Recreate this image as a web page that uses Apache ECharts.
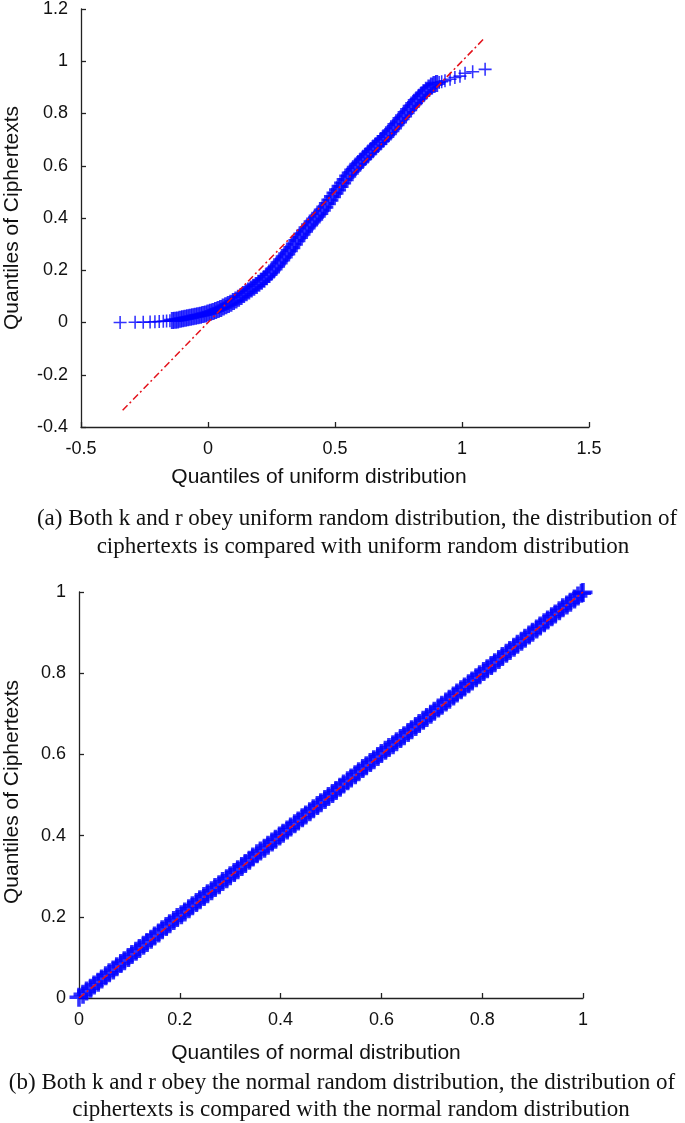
<!DOCTYPE html>
<html>
<head>
<meta charset="utf-8">
<script src="https://cdn.jsdelivr.net/npm/echarts@6/dist/echarts.min.js"></script>
<style>
html,body{margin:0;padding:0;background:#fff;}
#chart{width:685px;height:1123px;}
</style>
</head>
<body>
<div id="chart"></div>
<script>
// ---------- (a) uniform: quantile pairs ----------
var uniformTailLeft = [
  [-0.346,0.000],[-0.287,0.001],[-0.255,0.001],[-0.228,0.002],[-0.209,0.003],[-0.192,0.004],[-0.176,0.005],[-0.163,0.006],[-0.150,0.007]
];
var uniformBody = [
  [-0.14,0.008],[-0.13,0.009],[-0.12,0.010],[-0.11,0.012],[-0.10,0.014],[-0.09,0.016],[-0.08,0.018],[-0.07,0.020],[-0.06,0.022],[-0.05,0.024],
  [-0.04,0.026],[-0.03,0.028],[-0.02,0.031],[-0.01,0.033],[0.00,0.036],[0.01,0.039],[0.02,0.042],[0.03,0.046],[0.04,0.050],[0.05,0.054],
  [0.06,0.059],[0.07,0.064],[0.08,0.069],[0.09,0.074],[0.10,0.080],[0.11,0.086],[0.12,0.093],[0.13,0.100],[0.14,0.107],[0.15,0.114],
  [0.16,0.121],[0.17,0.128],[0.18,0.135],[0.19,0.142],[0.20,0.150],[0.21,0.158],[0.22,0.166],[0.23,0.175],[0.24,0.184],[0.25,0.194],
  [0.26,0.205],[0.27,0.216],[0.28,0.228],[0.29,0.240],[0.30,0.251],[0.31,0.263],[0.32,0.275],[0.33,0.287],[0.34,0.300],[0.35,0.313],
  [0.36,0.326],[0.37,0.338],[0.38,0.350],[0.39,0.362],[0.40,0.374],[0.41,0.385],[0.42,0.396],[0.43,0.407],[0.44,0.418],[0.45,0.430],
  [0.46,0.442],[0.47,0.455],[0.48,0.468],[0.49,0.482],[0.50,0.495],[0.51,0.508],[0.52,0.521],[0.53,0.534],[0.54,0.547],[0.55,0.560],
  [0.56,0.572],[0.57,0.583],[0.58,0.594],[0.59,0.605],[0.60,0.615],[0.61,0.625],[0.62,0.635],[0.63,0.645],[0.64,0.655],[0.65,0.665],
  [0.66,0.675],[0.67,0.685],[0.68,0.694],[0.69,0.703],[0.70,0.712],[0.71,0.723],[0.72,0.734],[0.73,0.745],[0.74,0.757],[0.75,0.768],
  [0.76,0.780],[0.77,0.791],[0.78,0.803],[0.79,0.815],[0.80,0.827],[0.81,0.838],[0.82,0.849],[0.83,0.859],[0.84,0.869],[0.85,0.879],
  [0.86,0.889],[0.87,0.898],[0.88,0.905],[0.89,0.911],[0.90,0.915]
];
var uniformTailRight = [
  [0.91,0.919],[0.92,0.922],[0.933,0.925],[0.953,0.931],[0.972,0.938],[0.992,0.943],[1.012,0.954],[1.042,0.960],[1.091,0.969]
];
var uniformRefX = [-0.336, 1.090];
var uniformRefY = [-0.336, 1.090];

// ---------- (b) normal: quantile pairs ----------
var normalQQ = [
  [0.000,0.002],[0.008,0.009],[0.015,0.017],[0.023,0.024],[0.030,0.032],[0.038,0.039],[0.045,0.047],[0.053,0.055],[0.060,0.062],[0.068,0.069],
  [0.075,0.077],[0.083,0.085],[0.090,0.092],[0.098,0.100],[0.105,0.107],[0.113,0.115],[0.120,0.122],[0.128,0.130],[0.135,0.137],[0.143,0.145],
  [0.150,0.153],[0.158,0.160],[0.165,0.168],[0.173,0.176],[0.180,0.183],[0.188,0.191],[0.195,0.198],[0.203,0.205],[0.210,0.212],[0.218,0.220],
  [0.225,0.227],[0.233,0.235],[0.240,0.242],[0.248,0.250],[0.255,0.257],[0.263,0.264],[0.270,0.272],[0.278,0.279],[0.285,0.287],[0.293,0.294],
  [0.300,0.301],[0.308,0.309],[0.315,0.316],[0.323,0.324],[0.330,0.331],[0.338,0.339],[0.345,0.347],[0.353,0.355],[0.360,0.362],[0.368,0.369],
  [0.375,0.376],[0.383,0.384],[0.390,0.391],[0.398,0.399],[0.405,0.406],[0.413,0.414],[0.420,0.421],[0.428,0.429],[0.435,0.436],[0.443,0.444],
  [0.450,0.451],[0.458,0.459],[0.465,0.466],[0.473,0.474],[0.480,0.481],[0.488,0.489],[0.495,0.496],[0.503,0.504],[0.510,0.511],[0.518,0.519],
  [0.525,0.527],[0.533,0.535],[0.540,0.542],[0.548,0.550],[0.555,0.557],[0.563,0.565],[0.570,0.572],[0.578,0.580],[0.585,0.587],[0.593,0.595],
  [0.600,0.602],[0.608,0.610],[0.615,0.617],[0.623,0.624],[0.630,0.631],[0.638,0.639],[0.645,0.646],[0.653,0.654],[0.660,0.661],[0.668,0.669],
  [0.675,0.676],[0.683,0.684],[0.690,0.691],[0.698,0.699],[0.705,0.706],[0.713,0.714],[0.720,0.721],[0.728,0.729],[0.735,0.736],[0.743,0.744],
  [0.750,0.751],[0.758,0.759],[0.765,0.766],[0.773,0.774],[0.780,0.781],[0.788,0.789],[0.795,0.796],[0.803,0.804],[0.810,0.811],[0.818,0.819],
  [0.825,0.826],[0.833,0.834],[0.840,0.841],[0.848,0.849],[0.855,0.856],[0.863,0.864],[0.870,0.871],[0.878,0.879],[0.885,0.886],[0.893,0.894],
  [0.900,0.901],[0.908,0.909],[0.915,0.916],[0.923,0.924],[0.930,0.931],[0.938,0.939],[0.945,0.946],[0.953,0.954],[0.960,0.961],[0.968,0.968],
  [0.975,0.975],[0.983,0.983],[0.990,0.990],[0.997,0.997],[1.000,0.999]
];
var normalRefX = [0, 1];
var normalRefY = [0, 1];

// ---------- texts ----------
var xNameA = 'Quantiles of uniform distribution';
var xNameB = 'Quantiles of normal distribution';
var yName = 'Quantiles of Ciphertexts';
var captionA = ['(a) Both k and r obey uniform random distribution, the distribution of',
                'ciphertexts is compared with uniform random distribution'];
var captionB = ['(b) Both k and r obey the normal random distribution, the distribution of',
                'ciphertexts is compared with the normal random distribution'];

function zip(xs, ys){ return xs.map(function(x,i){ return [x, ys[i]]; }); }

var plusThin = 'path://M8.8,0 H11.2 V8.8 H20 V11.2 H11.2 V20 H8.8 V11.2 H0 V8.8 H8.8 Z';
var plusThick = 'path://M8.1,0 H11.9 V8.1 H20 V11.9 H11.9 V20 H8.1 V11.9 H0 V8.1 H8.1 Z';
var blue = '#0000ff';
var red = '#e3121b';
var sans = '"Liberation Sans", Arial, sans-serif';
var serif = '"Liberation Serif", "Times New Roman", serif';

function axisBase(){
  return {
    type: 'value',
    axisLine: {show: true, onZero: false, lineStyle: {color: '#222', width: 1.3}},
    axisTick: {show: true, inside: true, length: 5, lineStyle: {color: '#222', width: 1.3}},
    splitLine: {show: false},
    axisLabel: {color: '#111', fontFamily: sans, fontSize: 18, margin: 13}
  };
}
function ax(extra){ var a = axisBase(); for (var k in extra) a[k] = extra[k]; return a; }

function capText(x, y, t){
  return {type: 'text', x: x, y: y,
    style: {text: t, font: '23px ' + serif, fill: '#111', textAlign: 'center', textVerticalAlign: 'middle'}};
}

var chart = echarts.init(document.getElementById('chart'), null, {renderer: 'canvas'});
chart.setOption({
  animation: false,
  backgroundColor: '#fff',
  grid: [
    {left: 81, top: 9, width: 508, height: 418},
    {left: 79, top: 592, width: 504, height: 406}
  ],
  xAxis: [
    ax({gridIndex: 0, min: -0.5, max: 1.5, interval: 0.5}),
    ax({gridIndex: 1, min: 0, max: 1, interval: 0.2})
  ],
  yAxis: [
    ax({gridIndex: 0, min: -0.4, max: 1.2, interval: 0.2}),
    ax({gridIndex: 1, min: 0, max: 1, interval: 0.2})
  ],
  series: [
    {type: 'scatter', xAxisIndex: 0, yAxisIndex: 0, data: uniformTailLeft, symbol: plusThin, symbolSize: 13,
     itemStyle: {color: blue}, z: 2},
    {type: 'scatter', xAxisIndex: 0, yAxisIndex: 0, data: uniformBody, symbol: plusThick, symbolSize: 17,
     itemStyle: {color: blue}, z: 2},
    {type: 'scatter', xAxisIndex: 0, yAxisIndex: 0, data: uniformTailRight, symbol: plusThin, symbolSize: 13,
     itemStyle: {color: blue}, z: 2},
    {type: 'line', xAxisIndex: 0, yAxisIndex: 0, data: zip(uniformRefX, uniformRefY), showSymbol: false,
     lineStyle: {color: red, width: 1.5, type: [7, 3, 2, 3]}, z: 3},
    {type: 'scatter', xAxisIndex: 1, yAxisIndex: 1, data: normalQQ, symbol: plusThick, symbolSize: 19,
     itemStyle: {color: blue}, z: 2},
    {type: 'line', xAxisIndex: 1, yAxisIndex: 1, data: zip(normalRefX, normalRefY), showSymbol: false,
     lineStyle: {color: red, width: 1.5, type: [7, 3, 2, 3]}, z: 3}
  ],
  graphic: [
    {type: 'text', x: 12, y: 218, rotation: Math.PI/2,
     style: {text: yName, font: '21px ' + sans, fill: '#111', textAlign: 'center', textVerticalAlign: 'middle'}},
    {type: 'text', x: 12, y: 792, rotation: Math.PI/2,
     style: {text: yName, font: '21px ' + sans, fill: '#111', textAlign: 'center', textVerticalAlign: 'middle'}},
    {type: 'text', x: 319, y: 477,
     style: {text: xNameA, font: '21px ' + sans, fill: '#111', textAlign: 'center', textVerticalAlign: 'middle'}},
    {type: 'text', x: 316, y: 1053,
     style: {text: xNameB, font: '21px ' + sans, fill: '#111', textAlign: 'center', textVerticalAlign: 'middle'}},
    capText(357, 519, captionA[0]),
    capText(363, 547, captionA[1]),
    capText(342, 1083, captionB[0]),
    capText(351, 1110, captionB[1])
  ]
});
</script>
</body>
</html>
